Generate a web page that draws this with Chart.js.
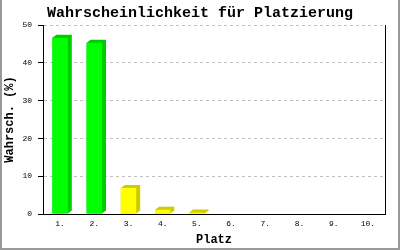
<!DOCTYPE html>
<html>
<head>
<meta charset="utf-8">
<script src="https://cdn.jsdelivr.net/npm/chart.js@4/dist/chart.umd.min.js"></script>
<style>
html,body{margin:0;padding:0;background:#fff;}
canvas{display:block;}
</style>
</head>
<body>
<canvas id="c" width="400" height="250"></canvas>
<script>
const categories = ['1.', '2.', '3.', '4.', '5.', '6.', '7.', '8.', '9.', '10.'];
const values = [46.6, 45.3, 6.9, 1.1, 0.4, 0, 0, 0, 0, 0];
const frontColors = ['#00ff00', '#00ff00', '#ffff00', '#ffff00', '#ffff00', '#ffff00', '#ffff00', '#ffff00', '#ffff00', '#ffff00'];
const sideColors = ['#00cc00', '#00cc00', '#cccc00', '#cccc00', '#cccc00', '#cccc00', '#cccc00', '#cccc00', '#cccc00', '#cccc00'];
const yTicks = [0, 10, 20, 30, 40, 50];
const titleText = 'Wahrscheinlichkeit für Platzierung';
const xTitle = 'Platz';
const yTitle = 'Wahrsch. (%)';

const MONO = "'Liberation Mono', 'DejaVu Sans Mono', monospace";
const DX = 4, DY = 3;

const bar3d = {
  id: 'bar3d',
  beforeDatasetsDraw(chart) {
    const ctx = chart.ctx;
    const meta = chart.getDatasetMeta(0);
    meta.data.forEach((el, i) => {
      if (!values[i]) return;
      const p = el.getProps(['x', 'y', 'base', 'width'], true);
      const l = p.x - p.width / 2, r = p.x + p.width / 2;
      ctx.save();
      ctx.fillStyle = sideColors[i];
      ctx.beginPath();
      ctx.moveTo(l, p.base);
      ctx.lineTo(l, p.y);
      ctx.lineTo(l + DX, p.y - DY);
      ctx.lineTo(r + DX, p.y - DY);
      ctx.lineTo(r + DX, p.base - DY);
      ctx.lineTo(r, p.base);
      ctx.closePath();
      ctx.fill();
      ctx.restore();
    });
  },
  afterDraw(chart) {
    const ctx = chart.ctx;
    const W = chart.width, H = chart.height;
    ctx.save();
    ctx.fillStyle = '#999999';
    ctx.fillRect(0, 0, 2, H);
    ctx.fillRect(W - 2, 0, 2, H);
    ctx.fillRect(0, H - 2, W, 2);
    ctx.restore();
  }
};

new Chart(document.getElementById('c'), {
  type: 'bar',
  data: {
    labels: categories,
    datasets: [{
      data: values,
      backgroundColor: frontColors,
      borderWidth: 0,
      categoryPercentage: 1,
      barPercentage: 0.45,
      yAxisID: 'y'
    }]
  },
  options: {
    responsive: false,
    animation: false,
    devicePixelRatio: 1,
    layout: { padding: 0 },
    plugins: {
      legend: { display: false },
      tooltip: { enabled: false },
      title: {
        display: true,
        text: titleText,
        color: '#000',
        font: { family: MONO, size: 15, weight: 'bold' },
        padding: { top: 4, bottom: 3 }
      }
    },
    scales: {
      x: {
        grid: { display: false, drawTicks: false },
        border: { display: true, color: '#000', width: 1 },
        ticks: { color: '#000', font: { family: MONO, size: 8 }, padding: 5, maxRotation: 0, autoSkip: false },
        title: { display: true, text: xTitle, color: '#000', font: { family: MONO, size: 12, weight: 'bold' }, padding: { top: 0, bottom: 3 } },
        afterFit(s) { s.height = 36; }
      },
      y: {
        min: 0, max: 50,
        afterBuildTicks(s) { s.ticks = yTicks.map(v => ({ value: v })); },
        grid: { color: '#c0c0c0', tickColor: '#000', tickLength: 5, tickBorderDash: [], lineWidth: 1 },
        border: { display: true, color: '#000', width: 1, dash: [3, 3] },
        ticks: { color: '#000', font: { family: MONO, size: 8 }, padding: 6 },
        title: { display: true, text: yTitle, color: '#000', font: { family: MONO, size: 12, weight: 'bold' }, padding: { top: 3, bottom: 0 } },
        afterFit(s) { s.width = 43; }
      },
      y2: {
        position: 'right',
        min: 0, max: 50,
        grid: { display: false, drawTicks: false, drawOnChartArea: false },
        border: { display: true, color: '#000', width: 1 },
        ticks: { display: false },
        afterFit(s) { s.width = 15; }
      }
    }
  },
  plugins: [bar3d]
});
</script>
</body>
</html>
